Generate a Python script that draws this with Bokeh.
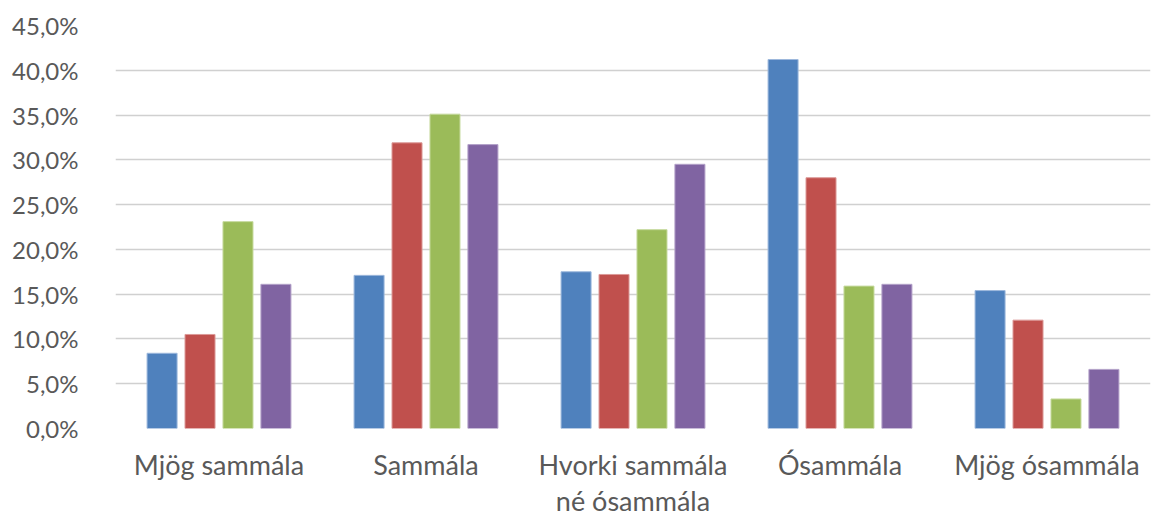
from bokeh.plotting import figure
from bokeh.models import ColumnDataSource, FactorRange, FixedTicker, CategoricalAxis
from bokeh.transform import dodge
from bokeh.embed import file_html
from bokeh.resources import INLINE

categories = ["Mjög sammála", "Sammála", "Hvorki sammála né ósammála", "Ósammála", "Mjög ósammála"]
category_labels = ["Mjög sammála", "Sammála", "Hvorki sammála\nné ósammála", "Ósammála", "Mjög ósammála"]
series_1 = [8.4, 17.1, 17.5, 41.2, 15.4]
series_2 = [10.5, 31.9, 17.2, 28.0, 12.1]
series_3 = [23.1, 35.1, 22.2, 15.9, 3.3]
series_4 = [16.1, 31.7, 29.5, 16.1, 6.6]
y_ticks = [0, 5, 10, 15, 20, 25, 30, 35, 40, 45]
y_tick_labels = ["0,0%", "5,0%", "10,0%", "15,0%", "20,0%", "25,0%", "30,0%", "35,0%", "40,0%", "45,0%"]

colors = ["#4F81BD", "#C0504D", "#9BBB59", "#8064A2"]
outlines = ["#9db8dc", "#dc9a98", "#c6da9e", "#b3a2c9"]

FONT = "Lato"
GREY = "#595959"
X_SIZE = "27px"

source = ColumnDataSource(dict(cat=categories, s1=series_1, s2=series_2, s3=series_3, s4=series_4))

# two stacked category axes carry the (possibly two-line) labels
first_lines, second_lines = [], []
for i, l in enumerate(category_labels):
    parts = l.split("\n")
    first_lines.append(parts[0])
    second_lines.append(parts[1] if len(parts) > 1 else " " * (i + 1))

p = figure(x_range=FactorRange(*categories), y_range=(0, 45),
           width=1155, height=519, output_backend="svg", toolbar_location=None,
           min_border_left=115, min_border_right=5, min_border_top=25, min_border_bottom=89)
p.extra_x_ranges = {"line1": FactorRange(*first_lines), "line2": FactorRange(*second_lines)}

offsets = [-0.275, -0.0917, 0.0917, 0.275]
for i, key in enumerate(["s1", "s2", "s3", "s4"]):
    p.vbar(x=dodge("cat", offsets[i], range=p.x_range), top=key, bottom=0, width=0.145,
           source=source, fill_color=colors[i], line_color=outlines[i], line_width=1)

p.outline_line_color = None
p.xgrid.grid_line_color = None
p.ygrid.grid_line_color = "#d0d0d0"
p.ygrid.grid_line_width = 1.5
p.xaxis.visible = False

for name, standoff in (("line1", 19), ("line2", 0)):
    ax = CategoricalAxis(x_range_name=name, axis_line_color=None, major_tick_line_color=None,
                         minor_tick_line_color=None, major_label_text_font=FONT,
                         major_label_text_font_size=X_SIZE, major_label_text_color=GREY,
                         major_label_standoff=standoff, major_tick_in=0, major_tick_out=0)
    p.add_layout(ax, "below")

p.yaxis.ticker = FixedTicker(ticks=y_ticks)
p.yaxis.major_label_overrides = {t: l for t, l in zip(y_ticks, y_tick_labels)}
p.yaxis.axis_line_color = None
p.yaxis.major_tick_line_color = None
p.yaxis.minor_tick_line_color = None
p.yaxis.major_label_text_font = FONT
p.yaxis.major_label_text_font_size = "24px"
p.yaxis.major_label_text_color = GREY
p.yaxis.major_label_standoff = 31

open("out.html", "w").write(file_html(p, INLINE))
